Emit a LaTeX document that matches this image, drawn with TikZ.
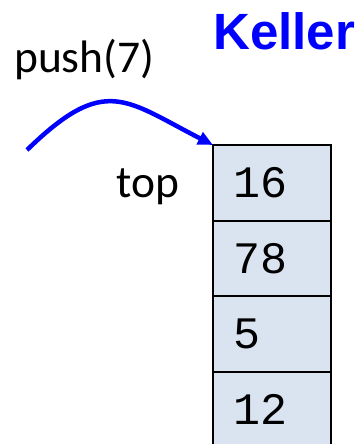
\documentclass[tikz,border=0pt]{standalone}
\usepackage{fontspec}
\setmainfont{Carlito}
\newfontfamily\titlefont{Liberation Sans}
\newfontfamily\cellfont{Liberation Mono}
\usetikzlibrary{arrows.meta,positioning}
\definecolor{cellfill}{HTML}{DAE3F0}
\tikzset{
  cell/.style={draw=black,line width=2pt,fill=cellfill,outer sep=0pt,
    minimum width=118pt,minimum height=75.5pt,inner xsep=20pt,inner ysep=0pt,
    text width=78pt,align=left,font=\cellfont\fontsize{45}{45}\selectfont},
  label text/.style={anchor=base west,inner sep=0pt,font=\fontsize{45.5}{45.5}\selectfont},
  push arrow/.style={draw=blue,line width=4.5pt,-{Triangle[length=15pt,width=13pt]}}
}
\begin{document}
\begin{tikzpicture}[x=1pt,y=-1pt]
          \useasboundingbox (0,0) rectangle (358,444);
          \node[anchor=base west,inner sep=0pt,text=blue,
            font=\titlefont\bfseries\fontsize{51}{51}\selectfont] (title) at (213,50) {Keller};
          \node[label text] (pushlabel) at (14,73) {push(7)};
          \node[label text] (toplabel) at (116,197) {top};
          \node[cell,anchor=north west] (c16) at (213,145) {16};
          \node[cell,below=0pt of c16] (c78) {78};
          \node[cell,below=0pt of c78] (c5) {5};
          \node[cell,below=0pt of c5] (c12) {12};
          \coordinate (pushstart) at (27,150);
          \draw[push arrow] (pushstart) .. controls (105,74) and (125,100) .. (c16.north west);
        \end{tikzpicture}
\end{document}
